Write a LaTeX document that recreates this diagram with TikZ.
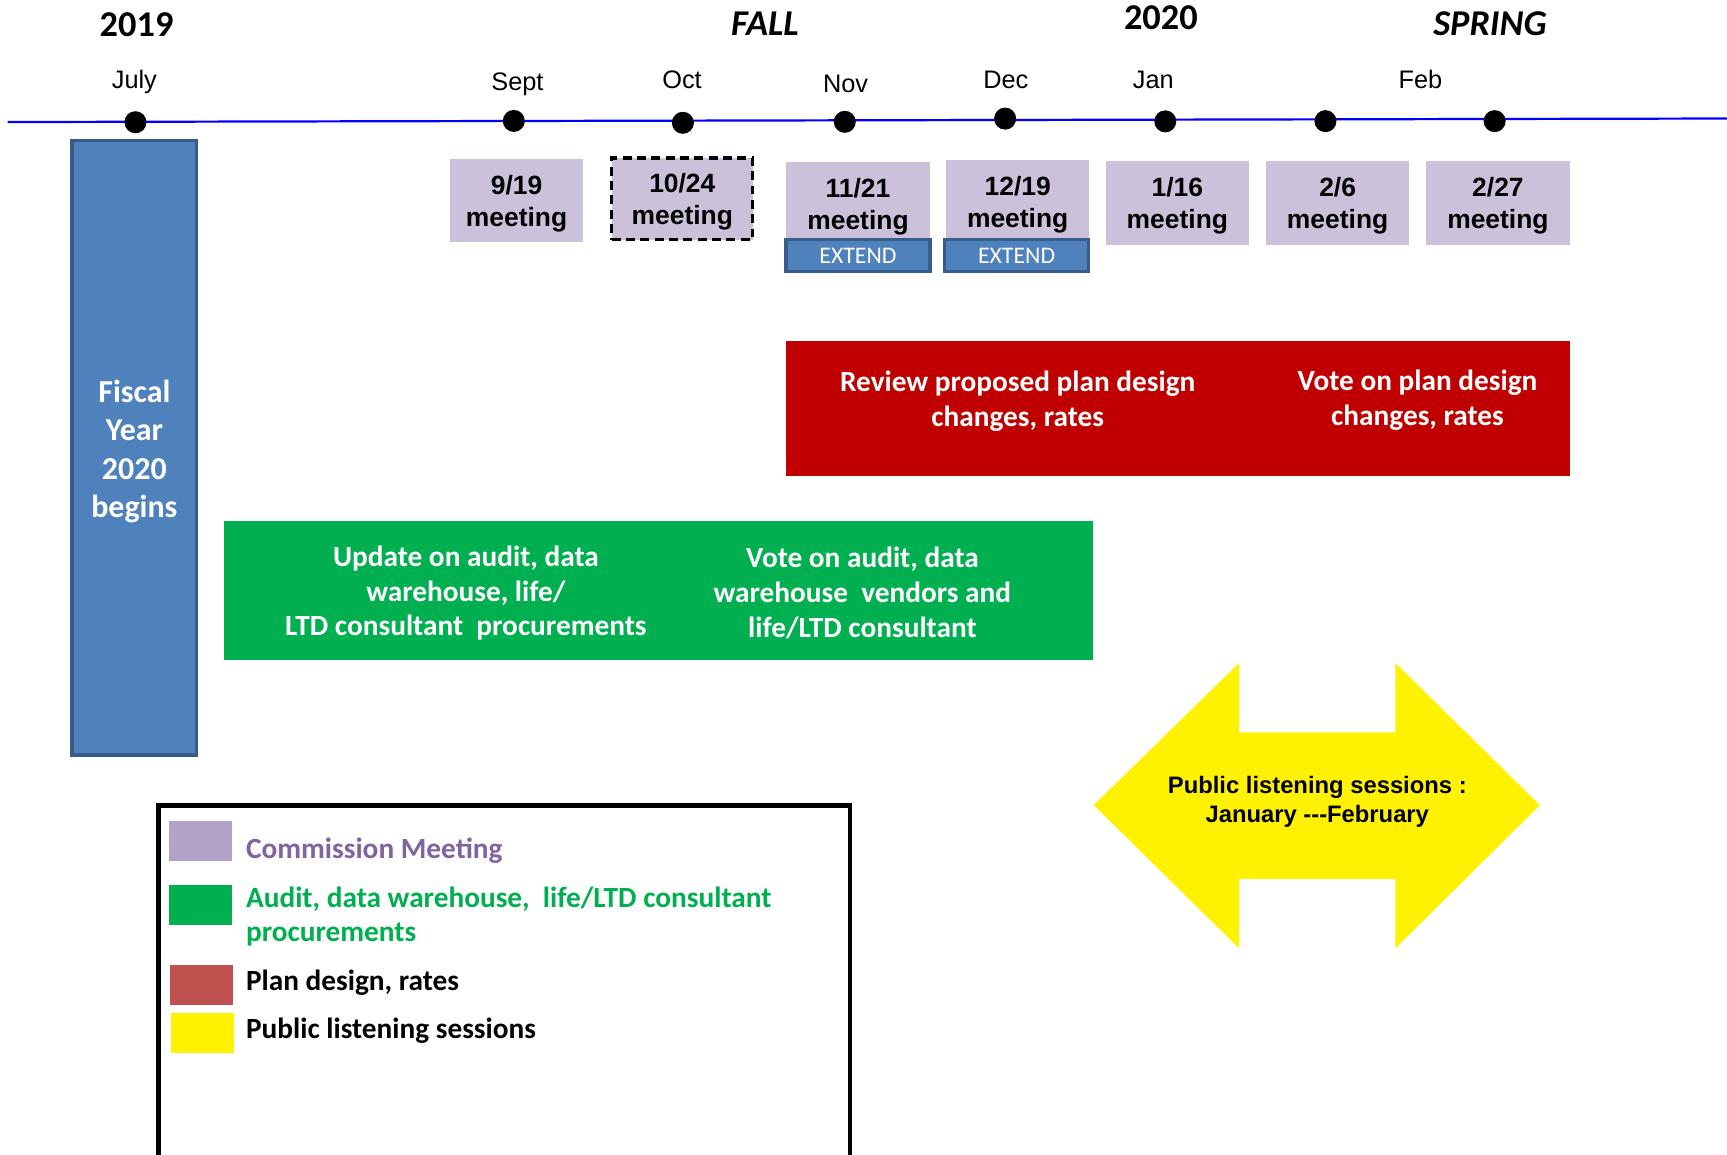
\documentclass[tikz,border=0pt]{standalone}
\usepackage{fontspec}
\setmainfont{Liberation Sans}
\newfontfamily\calibri{Carlito}
\definecolor{tlblue}{HTML}{0000FF}
\definecolor{meetfill}{HTML}{CCC1DA}
\definecolor{fyblue}{HTML}{4F81BD}
\definecolor{fyedge}{HTML}{385D8A}
\definecolor{planred}{HTML}{C00000}
\definecolor{procgreen}{HTML}{00B050}
\definecolor{lispurple}{HTML}{B3A2C7}
\definecolor{legpurple}{HTML}{8064A2}
\definecolor{legred}{HTML}{C0504D}

\begin{document}
\begin{tikzpicture}[x=0.5pt,y=-0.5pt,
    meeting/.style={fill=meetfill,minimum width=65pt,minimum height=38pt,inner sep=0pt,
      text height=26.2pt,text depth=2.5pt,
      align=center,font=\bfseries\fontsize{12}{14.5}\selectfont},
    extendbox/.style={fill=fyblue,draw=fyedge,line width=1.5pt,minimum width=65.5pt,
      minimum height=14.5pt,inner sep=0pt,text=white,font=\calibri\fontsize{10.8}{12}\selectfont},
    month/.style={anchor=base,inner sep=0pt,font=\fontsize{11.5}{13}\selectfont},
    year/.style={anchor=base,inner sep=0pt,font=\calibri\bfseries\fontsize{16.5}{18}\selectfont},
    season/.style={year,font=\calibri\bfseries\itshape\fontsize{16.5}{18}\selectfont},
    dot/.style={circle,fill=black,inner sep=0pt,minimum size=10pt},
    bartext/.style={inner sep=0pt,align=center,text=white,
      font=\calibri\bfseries\fontsize{13.3}{15.8}\selectfont},
    swatch/.style={minimum width=28.5pt,minimum height=18pt,inner sep=0pt},
    legtext/.style={anchor=base west,inner sep=0pt,align=left,
      font=\calibri\bfseries\fontsize{13.3}{15.75}\selectfont}]
  \path[use as bounding box,fill=white] (0,0) rectangle (1568,1048);
  \clip (0,0) rectangle (1568,1048);

  % years and seasons
  \node[year] (y2019) at (124,32.7) {2019};
  \node[season] (fall) at (694.5,31.8) {FALL};
  \node[year] (y2020) at (1054,27.2) {2020};
  \node[season] (spring) at (1352.8,31.8) {SPRING};

  % months
  \node[month] (jul) at (122,80) {July};
  \node[month] (sep) at (469.8,82.3) {Sept};
  \node[month] (oct) at (619.2,80.8) {Oct};
  \node[month] (nov) at (767.7,83.8) {Nov};
  \node[month] (dec) at (913.2,80.8) {Dec};
  \node[month] (jan) at (1047.2,80.8) {Jan};
  \node[month] (feb) at (1289.7,80.8) {Feb};

  % time line
  \coordinate (tl-start) at (7,110.8);
  \coordinate (tl-end) at (1568,107.6);
  \draw[tlblue,line width=1pt] (tl-start) -- (tl-end);
  \foreach \n/\x/\y in {d1/123/111,d2/466.5/109.8,d3/620/111.5,d4/767/110.6,
      d5/912.6/107.7,d6/1058/110.2,d7/1203.4/110,d8/1357/110}
    \node[dot] (\n) at (\x,\y) {};

  % fiscal year bar
  \node[fill=fyblue,draw=fyedge,line width=1.5pt,minimum width=56.5pt,minimum height=279pt,
    inner sep=0pt] (fy) at (122,406.5) {};
  \node[inner sep=0pt,align=center,text=white,font=\calibri\bfseries\fontsize{14.5}{17.5}\selectfont]
    (fy-text) at (122,410) {Fiscal\\Year\\2020\\begins};

  % meetings
  \node[meeting,minimum width=60.5pt] (m919) at (469,182) {9/19\\meeting};
  \node[meeting,draw=black,line width=1.5pt,dash pattern=on 4pt off 2.5pt,
    minimum width=64pt,minimum height=37pt] (m1024) at (619.5,180.5) {10/24\\meeting};
  \node[meeting] (m1121) at (779,185) {11/21\\meeting};
  \node[meeting] (m1219) at (924,183) {12/19\\meeting};
  \node[meeting] (m116) at (1069,184) {1/16\\meeting};
  \node[meeting] (m26) at (1214.5,184) {2/6\\meeting};
  \node[meeting] (m227) at (1360,184) {2/27\\meeting};
  \node[extendbox] (ext1) at (779,232) {EXTEND};
  \node[extendbox] (ext2) at (923,232) {EXTEND};

  % plan design, rates
  \node[fill=planred,minimum width=355.5pt,minimum height=61pt,inner sep=0pt] (plan) at (1069.5,371) {};
  \node[bartext] (plan-review) at (924,364) {Review proposed plan design\\changes, rates};
  \node[bartext] (plan-vote) at (1287,363) {Vote on plan design\\changes, rates};

  % procurements
  \node[fill=procgreen,minimum width=394.5pt,minimum height=63pt,inner sep=0pt] (proc) at (597.5,536) {};
  \node[bartext] (proc-update) at (423,538.5)
    {Update on audit, data\\warehouse, life/\\LTD consultant\ \ procurements};
  \node[bartext] (proc-vote) at (783,538.5)
    {Vote on audit, data\\warehouse\ \ vendors and\\life/LTD consultant};

  % listening sessions
  \fill[yellow] (993,731) -- (1125,602) -- (1125,665) -- (1267,665) -- (1267,602)
    -- (1398,731) -- (1267,861) -- (1267,798) -- (1125,798) -- (1125,861) -- cycle;
  \node[inner sep=0pt,align=center,font=\bfseries\fontsize{10.8}{13}\selectfont]
    (pls) at (1196,728) {Public listening sessions :\\January -{}-{}-February};

  % legend
  \draw[line width=2pt] (144,1070) -- (144,731.5) -- (771.5,731.5) -- (771.5,1070);
  \node[swatch,fill=lispurple] (sw-meet) at (182,763.4) {};
  \node[swatch,fill=procgreen] (sw-proc) at (182,821.7) {};
  \node[swatch,fill=legred] (sw-plan) at (183,894.2) {};
  \node[swatch,fill=yellow] (sw-pls) at (184,937.6) {};
  \node[legtext,text=legpurple] (lg-meet) at (223,779) {Commission Meeting};
  \node[legtext,text=procgreen] (lg-proc) at (223,855)
    {Audit, data warehouse,\ \ life/LTD consultant\\procurements};
  \node[legtext] (lg-plan) at (223,899) {Plan design, rates};
  \node[legtext] (lg-pls) at (223,942.7) {Public listening sessions};
\end{tikzpicture}
\end{document}
